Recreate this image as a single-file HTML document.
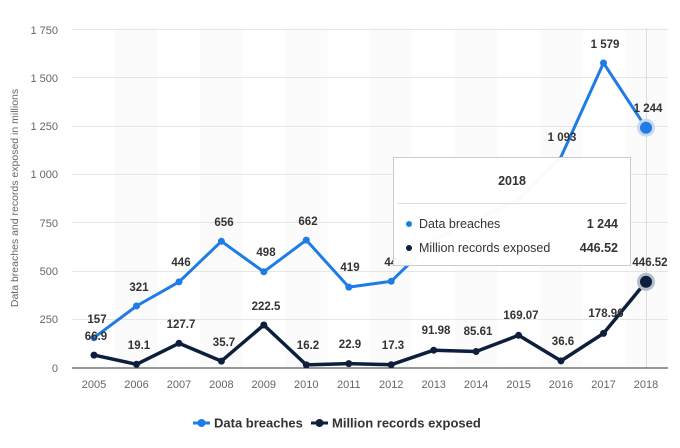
<!DOCTYPE html>
<html><head><style>body{margin:0;background:#fff}svg{display:block;font-family:"Liberation Sans",sans-serif}</style></head><body>
<svg width="680" height="448" viewBox="0 0 680 448" xmlns="http://www.w3.org/2000/svg">
<g fill="#fbfbfb">
<rect x="115" y="28" width="42.5" height="340"/><rect x="200" y="28" width="42.5" height="340"/><rect x="285" y="28" width="42.5" height="340"/><rect x="370" y="28" width="42.5" height="340"/><rect x="455" y="28" width="42.5" height="340"/><rect x="540" y="28" width="42.5" height="340"/><rect x="625" y="28" width="42.5" height="340"/>
</g>
<g stroke="#e6e6e6" stroke-width="1">
<line x1="72" x2="668" y1="29.5" y2="29.5"/><line x1="72" x2="668" y1="77.5" y2="77.5"/><line x1="72" x2="668" y1="126.5" y2="126.5"/><line x1="72" x2="668" y1="174.5" y2="174.5"/><line x1="72" x2="668" y1="222.5" y2="222.5"/><line x1="72" x2="668" y1="271.5" y2="271.5"/><line x1="72" x2="668" y1="319.5" y2="319.5"/>
<line x1="646.5" x2="646.5" y1="28" y2="368" stroke="#ddd"/>
</g>
<line x1="72" x2="668" y1="368" y2="368" stroke="#333" stroke-width="1"/>
<g font-size="11" fill="#666" text-anchor="end">
<text x="58" y="34">1 750</text><text x="58" y="82">1 500</text><text x="58" y="130">1 250</text><text x="58" y="178">1 000</text><text x="58" y="227">750</text><text x="58" y="275">500</text><text x="58" y="323">250</text><text x="58" y="372">0</text>
</g>
<text transform="translate(18,198) rotate(-90)" font-size="10.5" fill="#666" text-anchor="middle">Data breaches and records exposed in millions</text>
<g font-size="11" fill="#666" text-anchor="middle">
<text x="94" y="388">2005</text><text x="136.5" y="388">2006</text><text x="179" y="388">2007</text><text x="221.4" y="388">2008</text><text x="263.8" y="388">2009</text><text x="306.3" y="388">2010</text><text x="348.8" y="388">2011</text><text x="391.2" y="388">2012</text><text x="433.7" y="388">2013</text><text x="476.1" y="388">2014</text><text x="518.6" y="388">2015</text><text x="561" y="388">2016</text><text x="603.5" y="388">2017</text><text x="646" y="388">2018</text>
</g>
<polyline fill="none" stroke="#1f7be5" stroke-width="3" stroke-linejoin="round" points="94,337.7 136.5,306 179,281.9 221.4,241.3 263.8,271.8 306.3,240.1 348.8,287.1 391.2,281.3 433.7,240 476.1,220 518.6,200 561,156.9 603.5,63 646,127.7"/>
<g fill="#1f7be5"><circle cx="94" cy="337.7" r="3.5"/><circle cx="136.5" cy="306" r="3.5"/><circle cx="179" cy="281.9" r="3.5"/><circle cx="221.4" cy="241.3" r="3.5"/><circle cx="263.8" cy="271.8" r="3.5"/><circle cx="306.3" cy="240.1" r="3.5"/><circle cx="348.8" cy="287.1" r="3.5"/><circle cx="391.2" cy="281.3" r="3.5"/><circle cx="603.5" cy="63" r="3.5"/>
<circle cx="646" cy="127.7" r="9" fill="#c9d9ee"/><circle cx="646" cy="127.7" r="6"/></g>
<polyline fill="none" stroke="#0d1f3c" stroke-width="3.5" stroke-linejoin="round" points="94,355.1 136.5,364.3 179,343.3 221.4,361.1 263.8,325 306.3,364.9 348.8,363.6 391.2,364.7 433.7,350.2 476.1,351.5 518.6,335.3 561,360.9 603.5,333.4 646,281.8"/>
<g fill="#0d1f3c"><circle cx="94" cy="355.1" r="3.5"/><circle cx="136.5" cy="364.3" r="3.5"/><circle cx="179" cy="343.3" r="3.5"/><circle cx="221.4" cy="361.1" r="3.5"/><circle cx="263.8" cy="325" r="3.5"/><circle cx="306.3" cy="364.9" r="3.5"/><circle cx="348.8" cy="363.6" r="3.5"/><circle cx="391.2" cy="364.7" r="3.5"/><circle cx="433.7" cy="350.2" r="3.5"/><circle cx="476.1" cy="351.5" r="3.5"/><circle cx="518.6" cy="335.3" r="3.5"/><circle cx="561" cy="360.9" r="3.5"/><circle cx="603.5" cy="333.4" r="3.5"/>
<circle cx="646" cy="281.8" r="9" fill="#b5bfcc"/><circle cx="646" cy="281.8" r="6"/></g>
<g font-size="11.5" font-weight="bold" fill="#333" text-anchor="middle">
<text x="97" y="323">157</text><text x="139" y="291">321</text><text x="181" y="266">446</text><text x="224" y="226">656</text><text x="266" y="256">498</text><text x="308" y="225">662</text><text x="350" y="271">419</text><text x="394" y="266">446</text><text x="562" y="141">1 093</text><text x="605" y="48">1 579</text><text x="648" y="112">1 244</text>
<text x="96" y="340">66.9</text><text x="139" y="349">19.1</text><text x="181" y="328">127.7</text><text x="224" y="346">35.7</text><text x="266" y="310">222.5</text><text x="308" y="349">16.2</text><text x="350" y="348">22.9</text><text x="393" y="349">17.3</text><text x="436" y="334">91.98</text><text x="478" y="335">85.61</text><text x="521" y="319">169.07</text><text x="563" y="345">36.6</text><text x="606" y="317">178.96</text><text x="650" y="266">446.52</text>
</g>
<rect x="393.5" y="157.5" width="237" height="108" fill="#fff" fill-opacity="0.97" stroke="#ccc"/>
<text x="512" y="185" font-size="12.5" font-weight="bold" fill="#333" text-anchor="middle">2018</text>
<line x1="398" x2="626" y1="203.5" y2="203.5" stroke="#ddd"/>
<circle cx="409" cy="224" r="3" fill="#1f7be5"/><text x="419" y="228" font-size="12.5" fill="#333">Data breaches</text><text x="618" y="228" font-size="12.5" font-weight="bold" fill="#333" text-anchor="end">1 244</text>
<circle cx="409" cy="248" r="3" fill="#0d1f3c"/><text x="419" y="252" font-size="12.5" fill="#333">Million records exposed</text><text x="618" y="252" font-size="12.5" font-weight="bold" fill="#333" text-anchor="end">446.52</text>
<line x1="193" x2="210" y1="423" y2="423" stroke="#1f7be5" stroke-width="3"/><circle cx="201.5" cy="423" r="4" fill="#1f7be5"/>
<text x="214" y="427.5" font-size="13" font-weight="bold" fill="#333">Data breaches</text>
<line x1="311" x2="328" y1="423" y2="423" stroke="#0d1f3c" stroke-width="3"/><circle cx="319.5" cy="423" r="4" fill="#0d1f3c"/>
<text x="332" y="427.5" font-size="13" font-weight="bold" fill="#333">Million records exposed</text>
</svg>
</body></html>
